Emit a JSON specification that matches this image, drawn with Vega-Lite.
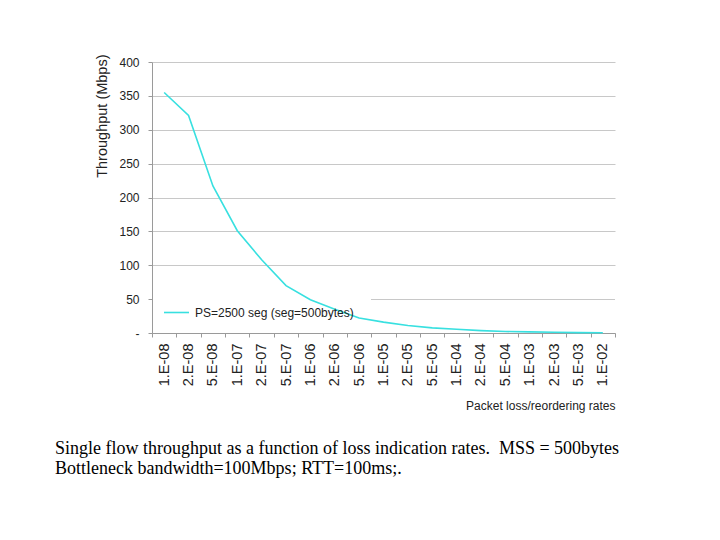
{
  "$schema": "https://vega.github.io/schema/vega-lite/v6.json",
  "width": 463,
  "height": 271,
  "autosize": {"type": "none"},
  "padding": {"left": 152, "top": 62, "right": 105, "bottom": 207},
  "background": "white",
  "config": {
    "view": {"stroke": null},
    "font": "Liberation Sans",
    "axis": {"labelFont": "Liberation Sans", "titleFont": "Liberation Sans", "labelColor": "#222222", "titleColor": "#222222", "titleFontWeight": "normal", "domainColor": "#9a9a9a", "tickColor": "#9a9a9a", "tickSize": 4}
  },
  "title": {
    "text": ["Single flow throughput as a function of loss indication rates.\u00a0 MSS = 500bytes", "Bottleneck bandwidth=100Mbps; RTT=100ms;."],
    "orient": "bottom",
    "anchor": "start",
    "frame": "group",
    "font": "Liberation Serif",
    "fontSize": 18,
    "fontWeight": "normal",
    "color": "black",
    "lineHeight": 20,
    "dx": -97,
    "offset": 29
  },
  "data": {
    "values": [
      {"rate": "1.E-08", "throughput": 355},
      {"rate": "2.E-08", "throughput": 321},
      {"rate": "5.E-08", "throughput": 217},
      {"rate": "1.E-07", "throughput": 151},
      {"rate": "2.E-07", "throughput": 108},
      {"rate": "5.E-07", "throughput": 70},
      {"rate": "1.E-06", "throughput": 49},
      {"rate": "2.E-06", "throughput": 35},
      {"rate": "5.E-06", "throughput": 22},
      {"rate": "1.E-05", "throughput": 16},
      {"rate": "2.E-05", "throughput": 11},
      {"rate": "5.E-05", "throughput": 7.5},
      {"rate": "1.E-04", "throughput": 5.5},
      {"rate": "2.E-04", "throughput": 3.5},
      {"rate": "5.E-04", "throughput": 2.2},
      {"rate": "1.E-03", "throughput": 1.6},
      {"rate": "2.E-03", "throughput": 1.2},
      {"rate": "5.E-03", "throughput": 0.5},
      {"rate": "1.E-02", "throughput": 0.3}
    ]
  },
  "resolve": {"axis": {"x": "independent", "y": "independent"}},
  "layer": [
    {
      "mark": {"type": "line", "strokeWidth": 1.6, "color": "#38e0e0"},
      "encoding": {
        "x": {
          "field": "rate",
          "type": "ordinal",
          "sort": null,
          "bandPosition": 0.5,
          "scale": {"type": "band", "paddingInner": 0, "paddingOuter": 0},
          "title": "Packet loss/reordering rates",
          "axis": {
            "labelAngle": 270,
            "labelFontSize": 14.5,
            "labelPadding": 6,
            "tickBand": "extent",
            "grid": false,
            "titleFontSize": 12,
            "titleAnchor": "end",
            "titleAlign": "right",
            "titleBaseline": "middle",
            "titleX": 463,
            "titleY": 72
          }
        },
        "y": {
          "field": "throughput",
          "type": "quantitative",
          "scale": {"domain": [0, 400], "nice": false},
          "title": "Throughput (Mbps)",
          "axis": {
            "values": [0, 50, 100, 150, 200, 250, 300, 350, 400],
            "labelExpr": "datum.value === 0 ? '-' : datum.label",
            "labelFontSize": 12,
            "labelPadding": 9,
            "labelOverlap": false,
            "grid": true,
            "gridColor": {"condition": {"test": "datum.value === 50", "value": "transparent"}, "value": "#c8c8c8"},
            "titleFontSize": 14.5,
            "titleAngle": 270,
            "titleAlign": "right",
            "titleBaseline": "middle",
            "titleX": -50,
            "titleY": -8
          }
        },
        "color": {
          "datum": "PS=2500 seg (seg=500bytes)",
          "type": "nominal",
          "scale": {"range": ["#38e0e0"]},
          "legend": {
            "title": null,
            "orient": "none",
            "legendX": 11,
            "legendY": 237,
            "symbolType": "stroke",
            "symbolSize": 625,
            "symbolStrokeWidth": 1.6,
            "labelFontSize": 12,
            "labelFont": "Liberation Sans",
            "labelColor": "#222222",
            "labelOffset": 5,
            "labelLimit": 400,
            "padding": 0
          }
        }
      }
    },
    {
      "mark": {"type": "rule", "color": "#c8c8c8", "strokeWidth": 1, "yOffset": 0.375},
      "encoding": {
        "x": {"datum": "1.E-05", "type": "ordinal", "bandPosition": 0, "axis": null},
        "x2": {"value": "width"},
        "y": {"datum": 50, "type": "quantitative", "axis": null}
      }
    }
  ]
}
